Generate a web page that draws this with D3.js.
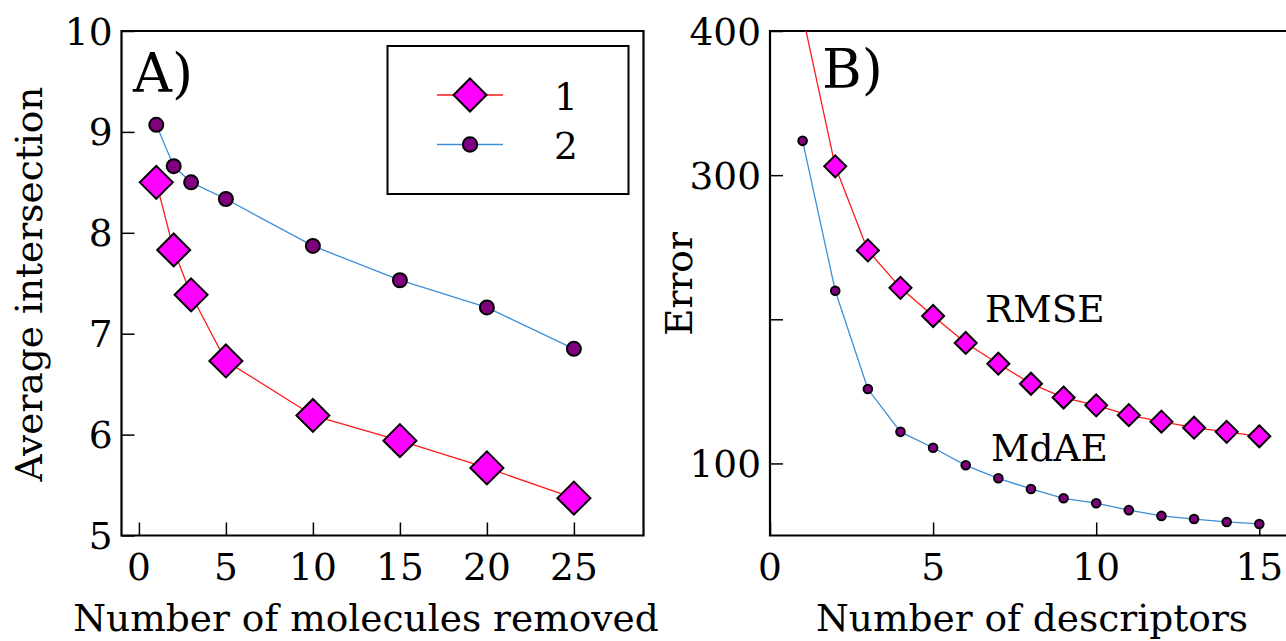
<!DOCTYPE html>
<html>
<head>
<meta charset="utf-8">
<script src="https://cdn.jsdelivr.net/npm/d3@7"></script>
<style>
  html, body { margin: 0; padding: 0; background: #fff; }
  svg { display: block; }
  text { font-family: "DejaVu Serif", serif; fill: #000; }
</style>
</head>
<body>
<svg id="chart" width="1286" height="641"></svg>
<script>
// ---- Panel A data ----
const removedX = [1, 2, 3, 5, 10, 15, 20, 25];
const series1 = [8.50, 7.83, 7.385, 6.73, 6.19, 5.94, 5.67, 5.37];
const series2 = [9.07, 8.66, 8.50, 8.335, 7.87, 7.53, 7.26, 6.85];
const legendLabels = ["1", "2"];
const xTicksA = [0, 5, 10, 15, 20, 25];
const yTicksA = [5, 6, 7, 8, 9, 10];

// ---- Panel B data ----
const descX = [1, 2, 3, 4, 5, 6, 7, 8, 9, 10, 11, 12, 13, 14, 15];
const rmse = [411, 306.1, 247.8, 221.8, 202.3, 183.6, 169.2, 155.3, 145.7, 140.3, 133.5, 129.0, 124.8, 121.9, 118.8];
const mdae = [323.8, 219.8, 151.6, 121.9, 110.9, 98.7, 89.7, 82.3, 75.8, 72.4, 67.6, 63.6, 61.4, 59.4, 58.0];
const xTicksB = [0, 5, 10, 15];
const yTicksB = [100, 200, 300, 400];
const yTickLabelsB = {100: "100", 200: "", 300: "300", 400: "400"};

const RED = "#ff1a1a", BLUE = "#3d8fd6", MAGENTA = "#ff00ff", PURPLE = "#800080";
const svg = d3.select("#chart");
const FS = 37.5;

function panel(opts) {
  const g = svg.append("g");
  const x = d3.scaleLinear().domain(opts.xDomain).range([opts.left, opts.left + opts.width]);
  const y = d3.scaleLinear().domain(opts.yDomain).range([opts.bottom, opts.top]);
  const clipId = "clip" + opts.id;
  svg.append("clipPath").attr("id", clipId).append("rect")
    .attr("x", opts.left).attr("y", opts.top)
    .attr("width", opts.width).attr("height", opts.bottom - opts.top);

  const xAxis = d3.axisBottom(x).tickValues(opts.xTicks).tickSize(-13).tickPadding(0).tickFormat("");
  g.append("g").attr("transform", `translate(0,${opts.bottom})`).call(xAxis)
    .call(s => { s.select(".domain").remove(); s.selectAll("line").attr("stroke", "#000").attr("stroke-width", 1.5); });
  const yAxis = d3.axisLeft(y).tickValues(opts.yTicks).tickSize(-13).tickFormat("");
  g.append("g").attr("transform", `translate(${opts.left},0)`).call(yAxis)
    .call(s => { s.select(".domain").remove(); s.selectAll("line").attr("stroke", "#000").attr("stroke-width", 1.5); });

  g.selectAll(".xl").data(opts.xTicks).enter().append("text")
    .attr("x", d => x(d)).attr("y", 580).attr("text-anchor", "middle")
    .style("font-size", FS + "px").text(d => d);
  g.selectAll(".yl").data(opts.yTicks).enter().append("text")
    .attr("x", opts.left - 9).attr("y", d => y(d) + 13.5).attr("text-anchor", "end")
    .style("font-size", FS + "px").text(d => opts.yLabel ? opts.yLabel(d) : d);

  g.append("path").attr("fill", "none").attr("stroke", "#000").attr("stroke-width", 2.2)
    .attr("d", `M${opts.left},${opts.top}H${opts.left + opts.width}V${opts.bottom}H${opts.left}Z`);

  const line = d3.line().x(d => x(d[0])).y(d => y(d[1]));
  const plot = g.append("g").attr("clip-path", `url(#${clipId})`);
  return {g, x, y, line, plot};
}

function diamond(sel, cx, cy, h) {
  sel.append("path")
    .attr("d", `M${cx},${cy - h}L${cx + h},${cy}L${cx},${cy + h}L${cx - h},${cy}Z`)
    .attr("fill", MAGENTA).attr("stroke", "#000").attr("stroke-width", 2).attr("stroke-linejoin", "miter");
}
function dot(sel, cx, cy, r) {
  sel.append("circle").attr("cx", cx).attr("cy", cy).attr("r", r)
    .attr("fill", PURPLE).attr("stroke", "#000").attr("stroke-width", 2);
}

// ---- Panel A ----
const A = panel({id: "A", left: 121.5, top: 31, width: 522, bottom: 535.5,
  xDomain: [-1, 29], yDomain: [5, 10], xTicks: xTicksA, yTicks: yTicksA});
const dA1 = removedX.map((v, i) => [v, series1[i]]);
const dA2 = removedX.map((v, i) => [v, series2[i]]);
A.plot.append("path").attr("d", A.line(dA1)).attr("fill", "none").attr("stroke", RED).attr("stroke-width", 1.3);
A.plot.append("path").attr("d", A.line(dA2)).attr("fill", "none").attr("stroke", BLUE).attr("stroke-width", 1.3);
dA2.forEach(d => dot(A.g, A.x(d[0]), A.y(d[1]), 7));
dA1.forEach(d => diamond(A.g, A.x(d[0]), A.y(d[1]), 16.5));
A.g.append("text").attr("x", 133).attr("y", 92).style("font-size", "54px").text("A)");
A.g.append("text").attr("transform", "translate(42,284) rotate(-90)").attr("text-anchor", "middle")
  .style("font-size", FS + "px").text("Average intersection");
A.g.append("text").attr("x", 366).attr("y", 631).attr("text-anchor", "middle")
  .style("font-size", FS + "px").text("Number of molecules removed");

// legend
const lg = A.g.append("g");
lg.append("rect").attr("x", 387.5).attr("y", 46).attr("width", 241).attr("height", 148)
  .attr("fill", "#fff").attr("stroke", "#000").attr("stroke-width", 2);
[[95, RED], [144.5, BLUE]].forEach(([yy, c]) => {
  lg.append("line").attr("x1", 437).attr("x2", 503).attr("y1", yy).attr("y2", yy)
    .attr("stroke", c).attr("stroke-width", 1.3);
});
diamond(lg, 470, 95, 16.5);
dot(lg, 470, 144.5, 7.2);
lg.selectAll(".lt").data(legendLabels).enter().append("text")
  .attr("x", 566).attr("y", (d, i) => i === 0 ? 110 : 159).attr("text-anchor", "middle")
  .style("font-size", FS + "px").text(d => d);

// ---- Panel B ----
const B = panel({id: "B", left: 770, top: 31, width: 32.62 * 16, bottom: 535.5,
  xDomain: [0, 16], yDomain: [50, 400], xTicks: xTicksB, yTicks: yTicksB,
  yLabel: d => yTickLabelsB[d]});
const dB1 = descX.map((v, i) => [v, rmse[i]]);
const dB2 = descX.map((v, i) => [v, mdae[i]]);
B.plot.append("path").attr("d", B.line(dB1)).attr("fill", "none").attr("stroke", RED).attr("stroke-width", 1.3);
B.plot.append("path").attr("d", B.line(dB2)).attr("fill", "none").attr("stroke", BLUE).attr("stroke-width", 1.3);
const bm = B.plot.append("g");
dB2.forEach(d => dot(bm, B.x(d[0]), B.y(d[1]), 4.3));
dB1.forEach(d => diamond(bm, B.x(d[0]), B.y(d[1]), 11));
B.g.append("text").attr("x", 822).attr("y", 88).style("font-size", "54px").text("B)");
B.g.append("text").attr("x", 985).attr("y", 322).style("font-size", FS + "px").text("RMSE");
B.g.append("text").attr("x", 991).attr("y", 461).style("font-size", FS + "px").text("MdAE");
B.g.append("text").attr("transform", "translate(692,284) rotate(-90)").attr("text-anchor", "middle")
  .style("font-size", FS + "px").text("Error");
B.g.append("text").attr("x", 1032).attr("y", 631).attr("text-anchor", "middle")
  .style("font-size", FS + "px").text("Number of descriptors");
</script>
</body>
</html>
